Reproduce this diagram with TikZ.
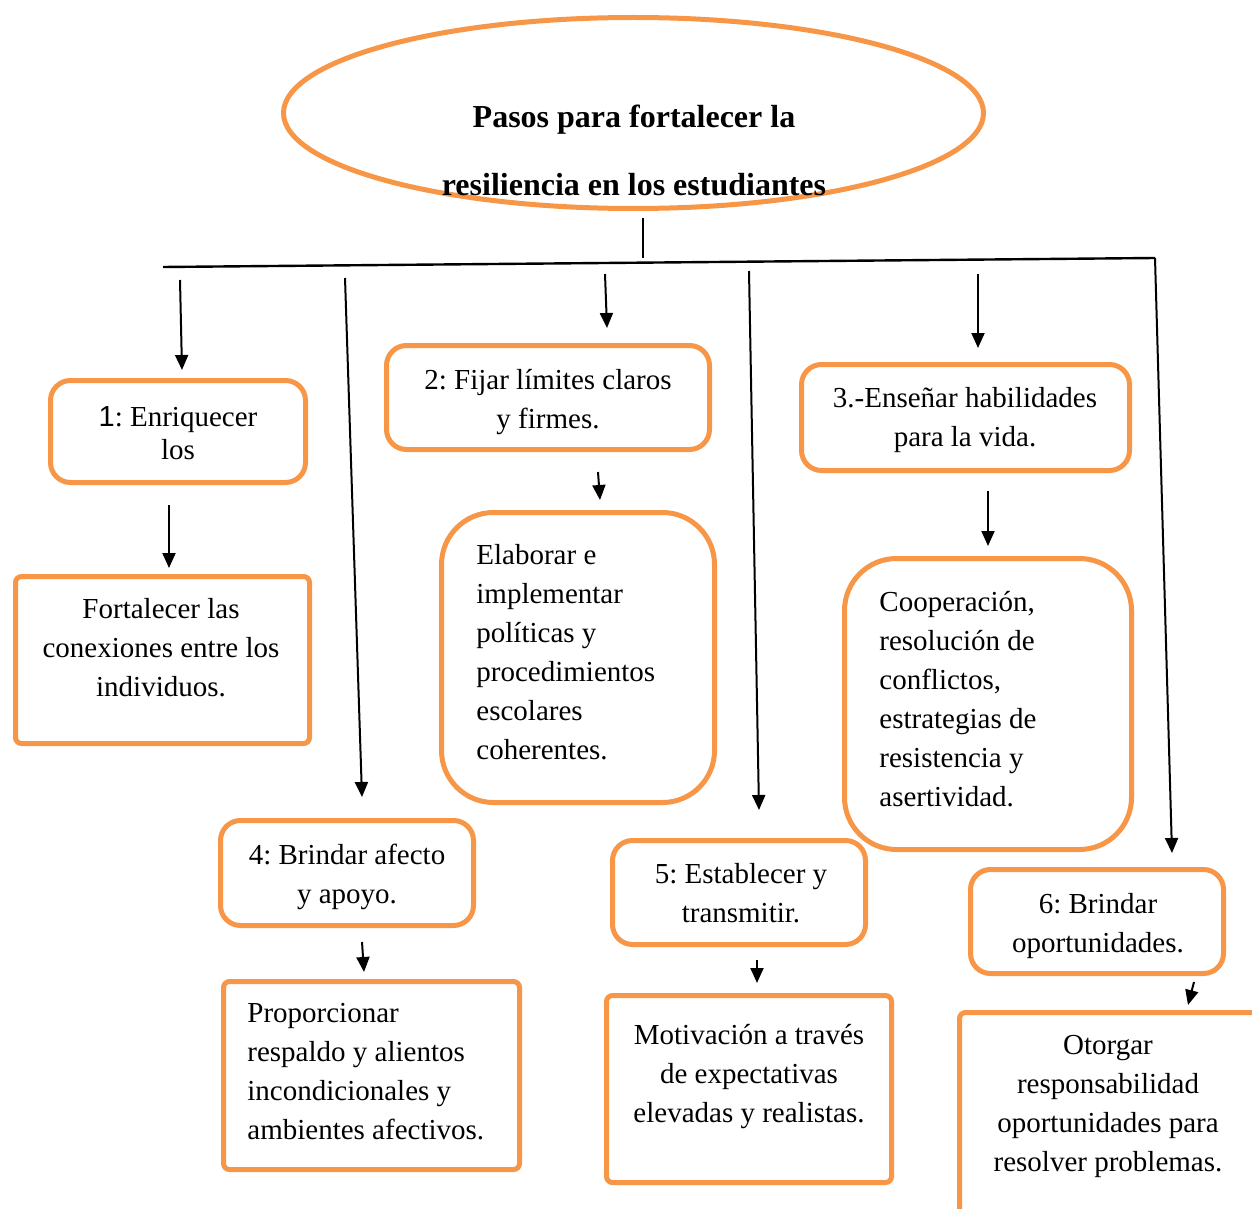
\documentclass[tikz,border=0pt]{standalone}
\usepackage{fontspec}
\setmainfont{Liberation Serif}
\newfontfamily\arialfont{Liberation Sans}
\usetikzlibrary{shapes.geometric}
\usetikzlibrary{arrows.meta}
\definecolor{accentorange}{RGB}{247,150,70}
\frenchspacing

\begin{document}
\begin{tikzpicture}[x=0.5pt, y=-0.5pt,
  every node/.style = {inner sep=0pt, font=\fontsize{14.5}{19.5}\selectfont},
  stepbox/.style = {draw=accentorange, line width=2.5pt, rounded corners=10pt},
  plainbox/.style = {draw=accentorange, line width=2.5pt, rounded corners=3pt},
  roundbox/.style = {draw=accentorange, line width=2.5pt, rounded corners=26pt},
  arr/.style = {-{Triangle[width=6.5pt,length=7.5pt]}, line width=1pt}]
  \useasboundingbox (0,0) rectangle (1252,1209);

  \node (oval) [ellipse, draw=accentorange, line width=2.5pt, minimum width=350pt, minimum height=95.5pt] at (633.5,113) {};
  \node (title) [align=center, font=\fontsize{16}{34}\selectfont\bfseries] at (634,150) {Pasos para fortalecer la\\resiliencia en los estudiantes};

  \node (b1) [stepbox, minimum width=127.5pt, minimum height=51pt] at (178,431.5) {};
  \node (c1) [plainbox, minimum width=147pt, minimum height=83.5pt] at (162.5,660) {};
  \node (b2) [stepbox, minimum width=161.5pt, minimum height=52pt] at (548,397.5) {};
  \node (c2) [roundbox, minimum width=136.5pt, minimum height=145pt] at (578,657.5) {};
  \node (b3) [stepbox, minimum width=164pt, minimum height=53pt] at (965.5,417.5) {};
  \node (c3) [roundbox, minimum width=143.5pt, minimum height=145.5pt] at (988,704) {};
  \node (b4) [stepbox, minimum width=126.5pt, minimum height=52.5pt] at (347,873) {};
  \node (c4) [plainbox, minimum width=148pt, minimum height=94pt] at (371.5,1075.5) {};
  \node (b5) [stepbox, minimum width=126.5pt, minimum height=52pt] at (739,892.5) {};
  \node (c5) [plainbox, minimum width=142.5pt, minimum height=93.5pt] at (749,1089) {};
  \node (b6) [stepbox, minimum width=126.5pt, minimum height=52pt] at (1097,921.5) {};
  \node (c6) [plainbox, minimum width=164pt, minimum height=112.5pt] at (1123.5,1125) {};

  \node (t1) [align=center, font=\fontsize{14.5}{16.5}\selectfont] at (178,433.5) {{\arialfont 1}: Enriquecer\\los};
  \node (u1) [align=center] at (161,647.5) {Fortalecer las\\conexiones entre los\\individuos.};
  \node (t2) [align=center] at (548,402) {2: Fijar límites claros\\y firmes.};
  \node (u2) [align=left, anchor=west] at (476,652) {Elaborar e\\implementar\\políticas y\\procedimientos\\escolares\\coherentes.};
  \node (t3) [align=center] at (965,420.5) {3.-Enseñar habilidades\\para la vida.};
  \node (u3) [align=left, anchor=west] at (879,699) {Cooperación,\\resolución de\\conflictos,\\estrategias de\\resistencia y\\asertividad.};
  \node (t4) [align=center] at (347,876.5) {4: Brindar afecto\\y apoyo.};
  \node (u4) [align=left, anchor=west] at (247,1071.5) {Proporcionar\\respaldo y alientos\\incondicionales y\\ambientes afectivos.};
  \node (t5) [align=center] at (741,893) {5: Establecer y\\transmitir.};
  \node (u5) [align=center] at (749,1076.5) {Motivación a través\\de expectativas\\elevadas y realistas.};
  \node (t6) [align=center] at (1098,926) {6: Brindar\\oportunidades.};
  \node (u6) [align=center] at (1108,1106.5) {Otorgar\\responsabilidad\\oportunidades para\\resolver problemas.};

  \coordinate (stemtop) at (643,218);
  \coordinate (stembot) at (643,258);
  \coordinate (barleft) at (163,267);
  \coordinate (barright) at (1155,258);
  \coordinate (s1) at (180,280);
  \coordinate (e1) at (182,370);
  \coordinate (s4) at (345,278);
  \coordinate (e4) at (362,797);
  \coordinate (s2) at (605,274);
  \coordinate (e2) at (607,328);
  \coordinate (s5) at (749,271);
  \coordinate (e5) at (759,810);
  \coordinate (s3) at (978,274);
  \coordinate (e3) at (978,348);
  \coordinate (e6) at (1172,853);
  \coordinate (p1) at (169,505);
  \coordinate (q1) at (169,568);
  \coordinate (p2) at (598,472);
  \coordinate (q2) at (600,500);
  \coordinate (p3) at (988,491);
  \coordinate (q3) at (988,546);
  \coordinate (p4) at (362,942);
  \coordinate (q4) at (364,972);
  \coordinate (p5) at (757,960);
  \coordinate (q5) at (757,983);
  \coordinate (p6) at (1194,982);
  \coordinate (q6) at (1188,1005);

  \draw [line width=1.2pt] (stemtop) -- (stembot);
  \draw [line width=1.2pt] (barleft) -- (barright);
  \draw [arr] (s1) -- (e1);
  \draw [arr] (s4) -- (e4);
  \draw [arr] (s2) -- (e2);
  \draw [arr] (s5) -- (e5);
  \draw [arr] (s3) -- (e3);
  \draw [arr] (barright) -- (e6);
  \draw [arr] (p1) -- (q1);
  \draw [arr] (p2) -- (q2);
  \draw [arr] (p3) -- (q3);
  \draw [arr] (p4) -- (q4);
  \draw [arr] (p5) -- (q5);
  \draw [arr] (p6) -- (q6);
\end{tikzpicture}
\end{document}
